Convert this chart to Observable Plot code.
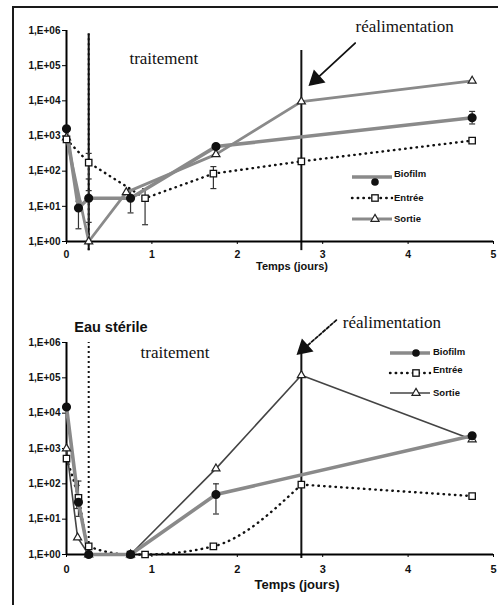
<!DOCTYPE html>
<html><head><meta charset="utf-8">
<script src="https://cdn.jsdelivr.net/npm/d3@7"></script>
<script src="https://cdn.jsdelivr.net/npm/@observablehq/plot@0.6"></script>
<style>
body{margin:0;background:#fff;}
#wrap{position:relative;width:498px;height:605px;overflow:hidden;background:#fff;}
#topPanel{position:absolute;left:0;top:0;}
#botPanel{position:absolute;left:0;top:292px;}
#frame{position:absolute;left:12px;top:6px;width:500px;height:620px;border-left:2px solid #1a1a1a;border-top:2px solid #1a1a1a;pointer-events:none;}
</style></head><body>
<div id="wrap"><div id="topPanel"></div><div id="botPanel"></div><div id="frame"></div></div>
<script>
// ---------- data ----------
const xTicks = [0, 1, 2, 3, 4, 5];
const yTicks = [1, 10, 100, 1000, 10000, 100000, 1000000];
const seriesNames = ["Biofilm", "Entrée", "Sortie"];

// top panel
const topBiofilmX = [0, 0.14, 0.26, 0.75, 1.75, 4.75];
const topBiofilmY = [1600, 9, 17, 17, 500, 3300];
const topEntreeX = [0, 0.26, 0.92, 1.72, 2.75, 4.75];
const topEntreeY = [800, 175, 17, 85, 190, 740];
const topSortieX = [0, 0.26, 0.7, 1.75, 2.75, 4.75];
const topSortieY = [900, 1, 25, 300, 9500, 37000];
const topErrX  = [0.14, 0.26, 0.75, 4.75, 0.26, 0.92, 1.72];
const topErrLo = [2.3, 3.5, 6.5, 2200, 60, 3, 32];
const topErrHi = [14, 28, 30, 5000, 320, 32, 135];
const topVlineX = [0.26, 0.26, 2.75];
const topVlineLo = [0.55, 0.55, 0.55];
const topVlineHi = [8e5, 8e5, 2.7e5];
const topVlineDash = ["none", "2,3", "none"];

// bottom panel
const botBiofilmX = [0, 0.14, 0.26, 0.75, 1.75, 4.75];
const botBiofilmY = [15000, 30, 1, 1, 50, 2300];
const botEntreeX = [0, 0.14, 0.26, 0.75, 0.92, 1.72, 2.75, 4.75];
const botEntreeY = [520, 40, 1.7, 1, 1, 1.7, 95, 45];
const botSortieX = [0, 0.13, 0.26, 0.75, 1.75, 2.75, 4.75];
const botSortieY = [1000, 3, 1, 1, 270, 118000, 1800];
const botErrX  = [0.14, 0.12, 1.75];
const botErrLo = [12, 20, 14];
const botErrHi = [120, 90, 100];
const botVlineX = [0.26, 2.75];
const botVlineLo = [0.77, 0.77];
const botVlineHi = [1e6, 5.2e5];
const botVlineDash = ["2,3", "none"];

// annotations
const topNotes = [
  {text: "traitement", x: 1.14, y: 1.6e5, size: 17, font: "Liberation Serif, serif", weight: "normal"},
  {text: "réalimentation", x: 3.96, y: 1.3e6, size: 17, font: "Liberation Serif, serif", weight: "normal"}
];
const topArrow = {x1: 3.38, y1: 4.4e5, x2: 2.88, y2: 3.3e4};
const botNotes = [
  {text: "Eau stérile", x: 0.52, y: 2.7e6, size: 14.5, font: "Liberation Sans, Arial, sans-serif", weight: "bold"},
  {text: "traitement", x: 1.27, y: 5.2e5, size: 17, font: "Liberation Serif, serif", weight: "normal"},
  {text: "réalimentation", x: 3.81, y: 3.7e6, size: 17, font: "Liberation Serif, serif", weight: "normal"}
];
const botArrow = {x1: 3.16, y1: 4.3e6, x2: 2.74, y2: 5.5e5};

const xLabel = "Temps (jours)";

// ---------- helpers ----------
const zip = (xs, ys) => xs.map((x, i) => ({x, y: ys[i]}));
const fmt = d => "1,E+" + String(Math.round(Math.log10(d))).padStart(2, "0");
const sans = "Liberation Sans, Arial, sans-serif";
const DOT = "0.5,5.2";

function panel(o) {
  const err = o.errX.map((x, i) => ({x, lo: o.errLo[i], hi: o.errHi[i]}));
  const caps = err.flatMap(d => [{x: d.x, y: d.lo}, {x: d.x, y: d.hi}]);
  const vl = o.vX.map((x, i) => ({x, lo: o.vLo[i], hi: o.vHi[i], dash: o.vDash[i]}));
  const bio = zip(o.bX, o.bY), ent = zip(o.eX, o.eY), sor = zip(o.sX, o.sY);
  const entLines = o.entSplit == null
    ? [Plot.line(ent, {x: "x", y: "y", stroke: "#111", strokeWidth: 2.4, strokeDasharray: DOT, strokeLinecap: "round"})]
    : [Plot.line(ent.filter(d => d.x <= o.entSplit), {x: "x", y: "y", stroke: "#111", strokeWidth: 2.4, strokeDasharray: DOT, strokeLinecap: "round", curve: "monotone-x"}),
       Plot.line(ent.filter(d => d.x >= o.entSplit), {x: "x", y: "y", stroke: "#111", strokeWidth: 2.4, strokeDasharray: DOT, strokeLinecap: "round"})];
  return Plot.plot({
    width: 498, height: o.height,
    marginLeft: 66, marginRight: 5, marginTop: o.mt, marginBottom: 51,
    style: {background: "transparent", fontFamily: sans, color: "#111"},
    x: {domain: [0, 5]},
    y: {type: "log", domain: [1, 1e6]},
    marks: [
      Plot.axisY({ticks: yTicks, tickFormat: fmt, tickSize: 4, tickPadding: 2, fontWeight: "bold", fontSize: o.yFont, label: null, stroke: "#000"}),
      Plot.axisX({ticks: xTicks, tickFormat: d => String(d), tickSize: 3, tickPadding: o.xPad, fontWeight: "bold", fontSize: o.xFont, label: null, stroke: "#000"}),
      ...vl.map(d => Plot.ruleX([d], {x: "x", y1: "lo", y2: "hi", stroke: "#111", strokeWidth: 2, strokeDasharray: d.dash === "none" ? null : d.dash})),
      Plot.ruleX([0], {y1: 1, y2: 1e6, stroke: "#000", strokeWidth: 2}),
      Plot.ruleY([1], {x1: 0, x2: 5, stroke: "#000", strokeWidth: 2}),
      // error bars
      Plot.ruleX(err, {x: "x", y1: "lo", y2: "hi", stroke: "#333", strokeWidth: 1.2}),
      Plot.link(caps, {x1: d => d.x - 0.035, x2: d => d.x + 0.035, y1: "y", y2: "y", stroke: "#333", strokeWidth: 1.2}),
      // lines
      ...entLines,
      Plot.line(sor, {x: "x", y: "y", stroke: o.sorStroke, strokeWidth: o.sorWidth}),
      Plot.line(bio, {x: "x", y: "y", stroke: "#8a8a8a", strokeWidth: 3.6}),
      // markers
      Plot.dot(sor, {x: "x", y: "y", symbol: "triangle", r: 3, stroke: "#222", fill: "#fff", strokeWidth: 1.2}),
      Plot.dot(ent, {x: "x", y: "y", symbol: "square", r: 3.6, stroke: "#111", fill: "#fff", strokeWidth: 1.3}),
      Plot.dot(bio, {x: "x", y: "y", r: 3.8, fill: "#111", stroke: "#111"}),
      // annotations
      ...o.notes.map(n => Plot.text([n], {x: "x", y: "y", text: "text", fontSize: n.size, fontFamily: n.font, fontWeight: n.weight, fill: "#111"})),
      Plot.arrow([o.arrow], {x1: "x1", y1: "y1", x2: "x2", y2: "y2", stroke: "#111", strokeWidth: 1.8, headLength: 8, strokeDasharray: o.arrowDash}),
      Plot.dot([o.arrow], {x: "x2", y: "y2", symbol: "triangle", rotate: -132, r: 5.5, fill: "#111", stroke: "#111", dx: 3.5, dy: -3.3}),
      Plot.text([xLabel], {frameAnchor: "bottom", dx: o.labDx, dy: o.labDy, fontSize: o.labFont, fontWeight: "bold", fontFamily: sans, fill: "#111"})
    ]
  });
}

function legend(svg, o) {
  const g = d3.select(svg).append("g").attr("font-family", sans).attr("font-weight", "bold").attr("font-size", o.font).attr("fill", "#111").attr("text-anchor", "start");
  const kinds = ["bio", "ent", "sor"];
  kinds.forEach((kind, i) => {
    const y = o.y0 + i * o.step;
    if (kind === "bio") {
      g.append("line").attr("x1", o.x0).attr("x2", o.x1).attr("y1", y).attr("y2", y).attr("stroke", "#8a8a8a").attr("stroke-width", 3.6);
      g.append("circle").attr("cx", o.mx).attr("cy", y + o.bioDy).attr("r", 3.8).attr("fill", "#111");
    } else if (kind === "ent") {
      g.append("line").attr("x1", o.x0).attr("x2", o.x1).attr("y1", y).attr("y2", y).attr("stroke", "#111").attr("stroke-width", 2.4).attr("stroke-dasharray", DOT).attr("stroke-linecap", "round");
      g.append("rect").attr("x", o.mx - 3.2).attr("y", y - 3.2).attr("width", 6.4).attr("height", 6.4).attr("fill", "#fff").attr("stroke", "#111").attr("stroke-width", 1.3);
    } else {
      g.append("line").attr("x1", o.x0).attr("x2", o.x1).attr("y1", y).attr("y2", y).attr("stroke", o.sorStroke).attr("stroke-width", o.sorWidth);
      g.append("path").attr("d", d3.symbol(d3.symbolTriangle, 28)()).attr("transform", `translate(${o.mx},${y})`).attr("fill", "#fff").attr("stroke", "#222").attr("stroke-width", 1.2);
    }
    g.append("text").attr("x", o.tx).attr("y", y + o.textDy[i]).attr("dominant-baseline", "middle").text(seriesNames[i]);
  });
}

const topChart = panel({
  height: 292, mt: 30, yFont: 10, xFont: 10.5, xPad: 6,
  bX: topBiofilmX, bY: topBiofilmY, eX: topEntreeX, eY: topEntreeY, sX: topSortieX, sY: topSortieY,
  errX: topErrX, errLo: topErrLo, errHi: topErrHi,
  vX: topVlineX, vLo: topVlineLo, vHi: topVlineHi, vDash: topVlineDash,
  notes: topNotes, arrow: topArrow, arrowDash: null,
  entSplit: null, sorStroke: "#8a8a8a", sorWidth: 2.8,
  labDx: 12, labDy: 28, labFont: 11
});
legend(topChart, {x0: 352, x1: 392, mx: 375, tx: 394, y0: 177, step: 21, font: 9.5, bioDy: 5, textDy: [-3, 0, 0], sorStroke: "#8a8a8a", sorWidth: 2.8});
document.getElementById("topPanel").appendChild(topChart);

const botChart = panel({
  height: 313, mt: 50, yFont: 10, xFont: 11, xPad: 8,
  bX: botBiofilmX, bY: botBiofilmY, eX: botEntreeX, eY: botEntreeY, sX: botSortieX, sY: botSortieY,
  errX: botErrX, errLo: botErrLo, errHi: botErrHi,
  vX: botVlineX, vLo: botVlineLo, vHi: botVlineHi, vDash: botVlineDash,
  notes: botNotes, arrow: botArrow, arrowDash: "3,2",
  entSplit: 2.75, sorStroke: "#444", sorWidth: 1.6,
  labDx: 17, labDy: 34, labFont: 13
});
legend(botChart, {x0: 390, x1: 430, mx: 416, tx: 433, y0: 61, step: 20, font: 9.5, bioDy: 0, textDy: [-1, -3, 0], sorStroke: "#444", sorWidth: 1.6});
document.getElementById("botPanel").appendChild(botChart);
</script>
</body></html>
